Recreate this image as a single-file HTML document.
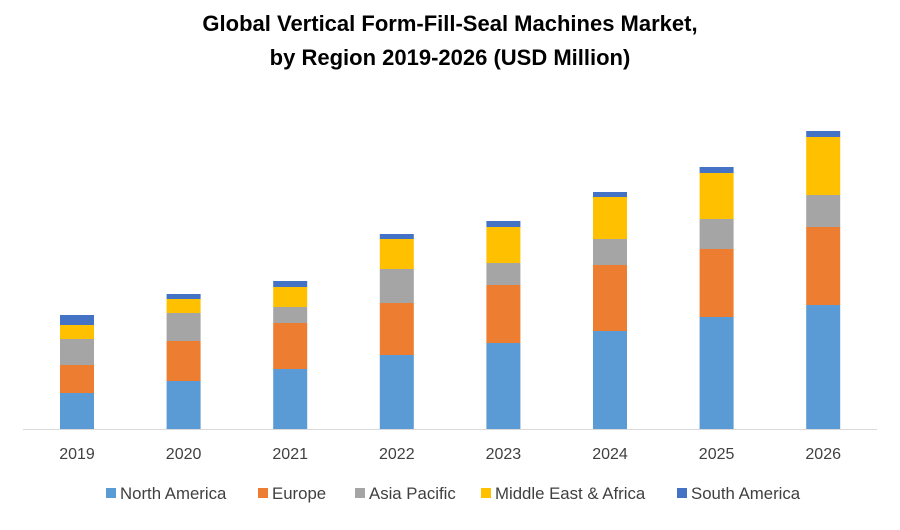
<!DOCTYPE html>
<html><head><meta charset="utf-8"><style>
body{margin:0;background:#fff;font-family:"Liberation Sans",sans-serif;}
</style></head><body>
<svg id="c" width="900" height="525" xmlns="http://www.w3.org/2000/svg">
<text x="450" y="31" text-anchor="middle" font-size="22" font-weight="bold" fill="#000">Global Vertical Form-Fill-Seal Machines Market,</text>
<text x="450" y="65" text-anchor="middle" font-size="22" font-weight="bold" fill="#000">by Region 2019-2026 (USD Million)</text>
<line x1="23" y1="429.5" x2="877" y2="429.5" stroke="#d9d9d9" stroke-width="1"/>
<g id="bars"></g>
<g id="legend"></g>
</svg>
<script>
const categories=["2019","2020","2021","2022","2023","2024","2025","2026"];
const seriesNames=["North America","Europe","Asia Pacific","Middle East & Africa","South America"];
const northAmerica=[36,48,60,74,86,98,112,124];
const europe=[28,40,46,52,58,66,68,78];
const asiaPacific=[26,28,16,34,22,26,30,32];
const middleEast=[14,14,20,30,36,42,46,58];
const southAmerica=[10,5,6,5,6,5,6,6];
const colors=["#5b9bd5","#ed7d31","#a5a5a5","#ffc000","#4472c4"];
const series=[northAmerica,europe,asiaPacific,middleEast,southAmerica];
const NS="http://www.w3.org/2000/svg";
const base=429, scale=1, x0=77, step=106.6, bw=34;
const xs=i=>x0+i*step;
const ys=v=>v*scale;
const g=document.getElementById('bars');
categories.forEach((c,i)=>{
  let acc=0;
  series.forEach((s,k)=>{
    const h=ys(s[i]);
    const r=document.createElementNS(NS,'rect');
    r.setAttribute('x',xs(i)-bw/2);r.setAttribute('y',base-ys(acc)-h);
    r.setAttribute('width',bw);r.setAttribute('height',h);r.setAttribute('fill',colors[k]);
    
    
    g.appendChild(r);acc+=s[i];
  });
  const t=document.createElementNS(NS,'text');
  t.setAttribute('x',xs(i));t.setAttribute('y',459);t.setAttribute('text-anchor','middle');
  t.setAttribute('font-size','16');t.setAttribute('fill','#404040');t.textContent=c;
  
  
  g.appendChild(t);
});
const lg=document.getElementById('legend');
const lx=[106,258,355,481,677];
seriesNames.forEach((n,k)=>{
  const r=document.createElementNS(NS,'rect');
  r.setAttribute('x',lx[k]);r.setAttribute('y',488);r.setAttribute('width',10);r.setAttribute('height',10);r.setAttribute('fill',colors[k]);
  
  
  lg.appendChild(r);
  const t=document.createElementNS(NS,'text');
  t.setAttribute('x',lx[k]+14);t.setAttribute('y',499);t.setAttribute('font-size','16.8');t.setAttribute('fill','#404040');t.textContent=n;
  
  
  lg.appendChild(t);
});
</script>
</body></html>
